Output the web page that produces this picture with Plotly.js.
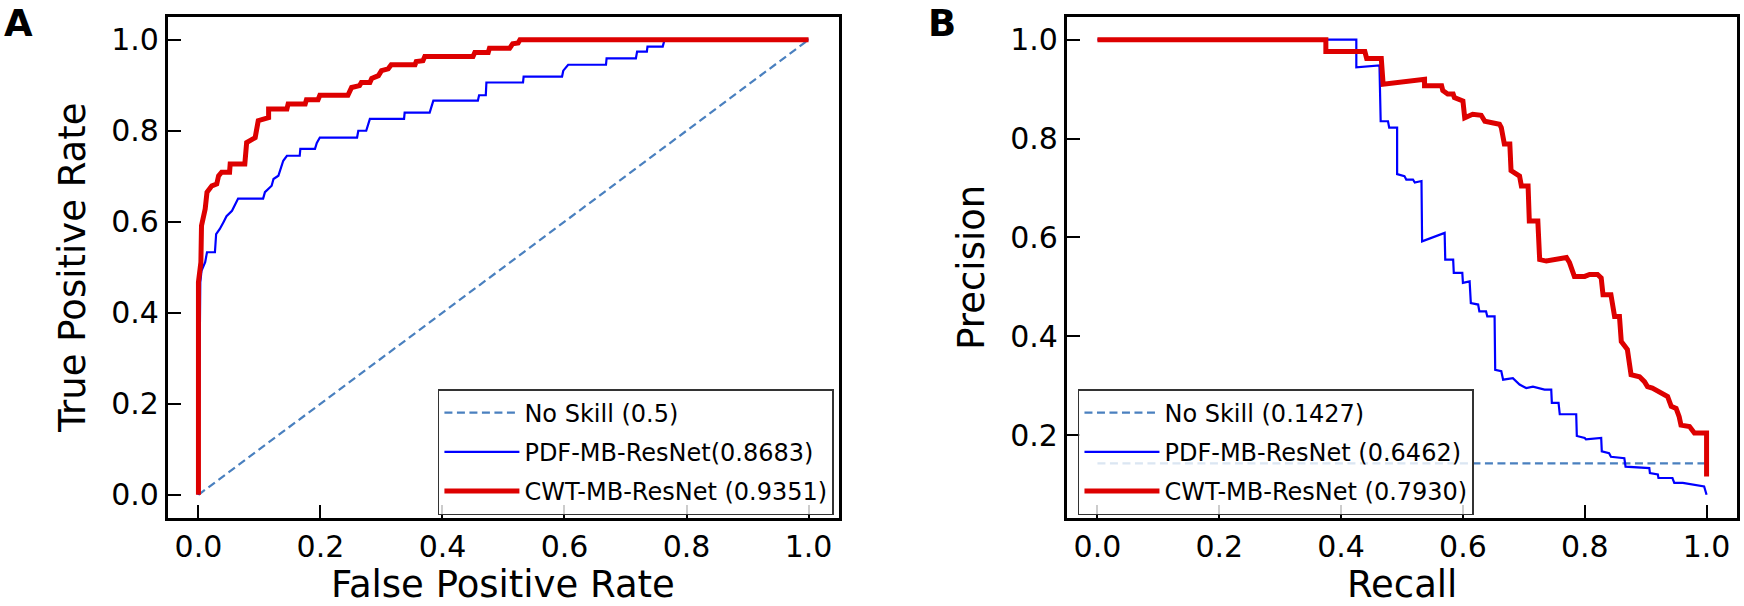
<!DOCTYPE html>
<html>
<head>
<meta charset="utf-8">
<script src="https://cdn.plot.ly/plotly-3.0.1.min.js"></script>
<style>
  html, body { margin: 0; padding: 0; background: #fff; }
  #plot { width: 1744px; height: 606px; }
</style>
</head>
<body>
<div id="plot"></div>
<script>
// DATA =========================================================
// ROC curves (panel A)
const rocNoSkillX = [0, 1];
const rocNoSkillY = [0, 1];

const rocPdfFpr = [0, 0.003, 0.005, 0.011, 0.014, 0.016, 0.027, 0.029, 0.035, 0.041, 0.046, 0.055, 0.060, 0.065, 0.106,
    0.109, 0.120, 0.123, 0.131, 0.135, 0.139, 0.145, 0.166, 0.167, 0.191, 0.194, 0.199, 0.260, 0.262, 0.275,
    0.278, 0.281, 0.337, 0.338, 0.379, 0.382, 0.385, 0.458, 0.460, 0.471, 0.472, 0.532, 0.533, 0.596, 0.598,
    0.606, 0.668, 0.669, 0.717, 0.719, 0.735, 0.736, 0.761, 0.764, 1.0];
const rocPdfTpr = [0, 0.467, 0.492, 0.511, 0.533, 0.533, 0.533, 0.573, 0.584, 0.599, 0.612, 0.624, 0.639, 0.651, 0.651,
    0.665, 0.679, 0.694, 0.701, 0.716, 0.734, 0.745, 0.745, 0.760, 0.760, 0.773, 0.785, 0.785, 0.800, 0.800,
    0.811, 0.826, 0.826, 0.840, 0.840, 0.854, 0.866, 0.866, 0.878, 0.878, 0.906, 0.906, 0.919, 0.919, 0.932,
    0.945, 0.945, 0.959, 0.959, 0.974, 0.974, 0.985, 0.985, 1.0, 1.0];

const rocCwtFpr = [0, 0, 0.004, 0.005, 0.011, 0.014, 0.022, 0.030, 0.033, 0.038, 0.051, 0.052, 0.076, 0.079, 0.093,
    0.098, 0.115, 0.115, 0.145, 0.147, 0.175, 0.177, 0.196, 0.199, 0.245, 0.251, 0.264, 0.267, 0.281, 0.284,
    0.295, 0.300, 0.311, 0.316, 0.355, 0.357, 0.368, 0.371, 0.450, 0.453, 0.475, 0.477, 0.510, 0.515, 0.524,
    0.527, 1.0];
const rocCwtTpr = [0, 0.467, 0.511, 0.591, 0.628, 0.665, 0.679, 0.683, 0.701, 0.709, 0.709, 0.727, 0.727, 0.774, 0.785,
    0.822, 0.829, 0.848, 0.848, 0.859, 0.859, 0.868, 0.868, 0.878, 0.878, 0.895, 0.899, 0.906, 0.906, 0.915,
    0.921, 0.932, 0.936, 0.945, 0.945, 0.952, 0.954, 0.963, 0.963, 0.972, 0.972, 0.981, 0.981, 0.991, 0.993,
    1.0, 1.0];

// Precision-recall curves (panel B)
const prNoSkillX = [0, 1];
const prNoSkillY = [0.1427, 0.1427];

const prPdfRecall = [0, 0.425, 0.425, 0.463, 0.465, 0.477, 0.479, 0.492, 0.492, 0.504, 0.507, 0.518, 0.521, 0.532, 0.533,
    0.570, 0.571, 0.584, 0.585, 0.599, 0.600, 0.611, 0.613, 0.625, 0.627, 0.638, 0.640, 0.652, 0.653, 0.663,
    0.666, 0.682, 0.693, 0.704, 0.715, 0.734, 0.745, 0.746, 0.757, 0.759, 0.786, 0.787, 0.800, 0.802, 0.827,
    0.828, 0.840, 0.843, 0.865, 0.867, 0.906, 0.907, 0.920, 0.921, 0.944, 0.947, 0.961, 0.974, 0.996, 1.0];
const prPdfPrecision = [1.0, 1.0, 0.944, 0.948, 0.835, 0.835, 0.822, 0.822, 0.728, 0.724, 0.717, 0.717, 0.711, 0.714, 0.592,
    0.609, 0.555, 0.555, 0.528, 0.528, 0.508, 0.511, 0.467, 0.464, 0.450, 0.450, 0.440, 0.440, 0.332, 0.329,
    0.312, 0.315, 0.302, 0.295, 0.298, 0.292, 0.292, 0.265, 0.265, 0.242, 0.242, 0.198, 0.194, 0.191, 0.194,
    0.167, 0.163, 0.156, 0.153, 0.136, 0.133, 0.123, 0.120, 0.113, 0.113, 0.103, 0.103, 0.100, 0.096, 0.079];

const prCwtRecall = [0, 0.375, 0.375, 0.439, 0.442, 0.466, 0.469, 0.537, 0.537, 0.565, 0.567, 0.575, 0.584, 0.586, 0.600,
    0.603, 0.616, 0.630, 0.636, 0.647, 0.660, 0.663, 0.668, 0.677, 0.679, 0.693, 0.696, 0.707, 0.709, 0.723,
    0.726, 0.737, 0.748, 0.770, 0.775, 0.783, 0.800, 0.808, 0.821, 0.827, 0.830, 0.843, 0.849, 0.857, 0.860,
    0.870, 0.876, 0.890, 0.898, 0.903, 0.911, 0.920, 0.931, 0.936, 0.942, 0.950, 0.955, 0.958, 0.972, 0.980,
    1.0, 1.0];
const prCwtPrecision = [1.0, 1.0, 0.976, 0.976, 0.962, 0.962, 0.910, 0.920, 0.907, 0.907, 0.897, 0.890, 0.890, 0.883, 0.876,
    0.842, 0.849, 0.847, 0.835, 0.832, 0.829, 0.822, 0.789, 0.789, 0.735, 0.724, 0.704, 0.704, 0.633, 0.633,
    0.555, 0.552, 0.555, 0.559, 0.549, 0.521, 0.521, 0.525, 0.525, 0.518, 0.484, 0.484, 0.440, 0.440, 0.389,
    0.373, 0.322, 0.318, 0.308, 0.298, 0.295, 0.288, 0.281, 0.278, 0.258, 0.254, 0.237, 0.220, 0.217, 0.204,
    0.204, 0.116];

const rocNames = ['No Skill (0.5)', 'PDF-MB-ResNet(0.8683)', 'CWT-MB-ResNet (0.9351)'];
const prNames = ['No Skill (0.1427)', 'PDF-MB-ResNet (0.6462)', 'CWT-MB-ResNet (0.7930)'];
const tickVals = [0, 0.2, 0.4, 0.6, 0.8, 1.0];
const tickText = ['0.0', '0.2', '0.4', '0.6', '0.8', '1.0'];

// STYLE ========================================================
const FONT = 'DejaVu Sans, sans-serif';
const colNoSkill = '#4a80bf';
const colPdf = '#0000ff';
const colCwt = '#dd0000';
const dashNoSkill = '8px,4.5px';

function mkTrace(x, y, name, color, width, dash, xa, ya, leg, grp) {
    return {
        x: x, y: y, name: name, type: 'scatter', mode: 'lines',
        line: {color: color, width: width, dash: dash},
        xaxis: xa, yaxis: ya, legend: leg, legendgroup: grp
    };
}

var data = [
    mkTrace(rocNoSkillX, rocNoSkillY, rocNames[0], colNoSkill, 2.2, dashNoSkill, 'x', 'y', 'legend', 'a0'),
    mkTrace(rocPdfFpr, rocPdfTpr, rocNames[1], colPdf, 2.2, 'solid', 'x', 'y', 'legend', 'a1'),
    mkTrace(rocCwtFpr, rocCwtTpr, rocNames[2], colCwt, 5, 'solid', 'x', 'y', 'legend', 'a2'),
    mkTrace(prNoSkillX, prNoSkillY, prNames[0], colNoSkill, 2.2, dashNoSkill, 'x2', 'y2', 'legend2', 'b0'),
    mkTrace(prPdfRecall, prPdfPrecision, prNames[1], colPdf, 2.2, 'solid', 'x2', 'y2', 'legend2', 'b1'),
    mkTrace(prCwtRecall, prCwtPrecision, prNames[2], colCwt, 5, 'solid', 'x2', 'y2', 'legend2', 'b2')
];

function axisStyle(extra) {
    var a = {
        showgrid: false, zeroline: false,
        showline: true, mirror: true, linecolor: '#000', linewidth: 3,
        ticks: 'inside', ticklen: 13, tickwidth: 2, tickcolor: '#000',
        tickvals: tickVals, ticktext: tickText,
        tickfont: {family: FONT, size: 30, color: '#000'}
    };
    for (var k in extra) a[k] = extra[k];
    return a;
}

function axisTitle(text, gap) {
    return {text: text, font: {family: FONT, size: 37, color: '#000'}, standoff: gap};
}

function legendStyle(xpos) {
    return {
        x: xpos, y: 0.358, xanchor: 'left', yanchor: 'top',
        bgcolor: 'rgba(255,255,255,0.8)', bordercolor: '#333', borderwidth: 1.5,
        font: {family: FONT, size: 24, color: '#000'},
        traceorder: 'grouped', tracegroupgap: 5, itemwidth: 75
    };
}

// x-axis titles sit at the very bottom of the figure, below where plotly
// lets an axis title go when there is no margin, so they are annotations
function bottomTitle(text, xc) {
    return {text: text, x: xc, y: 0, xref: 'paper', yref: 'paper', xanchor: 'center', yanchor: 'bottom',
        yshift: -2, showarrow: false, font: {family: FONT, size: 37, color: '#000'}};
}

var layout = {
    width: 1744, height: 606,
    margin: {l: 0, r: 0, t: 0, b: 0},
    paper_bgcolor: '#fff', plot_bgcolor: '#fff',
    showlegend: true,
    xaxis: axisStyle({
        domain: [0.0963, 0.4811], range: [-0.05, 1.05], anchor: 'y'
    }),
    yaxis: axisStyle({
        domain: [0.146, 0.972], range: [-0.05, 1.05], anchor: 'x',
        title: axisTitle('True Positive Rate', 15)
    }),
    xaxis2: axisStyle({
        domain: [0.6118, 0.996], range: [-0.05, 1.05], anchor: 'y2'
    }),
    yaxis2: axisStyle({
        domain: [0.146, 0.972], range: [0.033, 1.046], anchor: 'x2',
        title: axisTitle('Precision', 15)
    }),
    legend: legendStyle(0.2511),
    legend2: legendStyle(0.6181),
    annotations: [
        bottomTitle('False Positive Rate', 0.2887),
        bottomTitle('Recall', 0.8039),
        {text: '<b>A</b>', x: 0.001, y: 1, xref: 'paper', yref: 'paper', xanchor: 'left', yanchor: 'top',
            showarrow: false, font: {family: FONT, size: 37, color: '#000'}},
        {text: '<b>B</b>', x: 0.540, y: 1, xref: 'paper', yref: 'paper', xanchor: 'center', yanchor: 'top',
            showarrow: false, font: {family: FONT, size: 37, color: '#000'}}
    ]
};

Plotly.newPlot('plot', data, layout, {displayModeBar: false, staticPlot: true});
</script>
</body>
</html>
